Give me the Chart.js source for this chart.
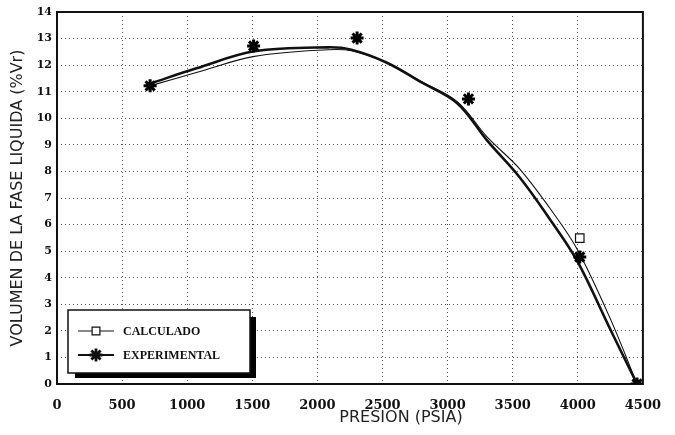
<!DOCTYPE html>
<html><head><meta charset="utf-8">
<script src="https://cdn.jsdelivr.net/npm/chart.js@4.4.1/dist/chart.umd.min.js"></script>
<style>html,body{margin:0;padding:0;background:#fff}canvas{display:block}</style>
</head><body>
<canvas id="c" width="675" height="435"></canvas>
<script>
// ---- data ----
const xTitle = 'PRESION (PSIA)';
const yTitle = 'VOLUMEN DE LA FASE LIQUIDA (%Vr)';
const seriesNames = ['CALCULADO', 'EXPERIMENTAL'];
const xTickValues = [0, 500, 1000, 1500, 2000, 2500, 3000, 3500, 4000, 4500];
const yTickValues = [0, 1, 2, 3, 4, 5, 6, 7, 8, 9, 10, 11, 12, 13, 14];
// smooth curves
const curvePressure = [713, 1070, 1516, 2082, 2261, 2530, 2801, 3076, 3303, 3553, 3780, 3992, 4250, 4455];
const curveExperimental = [11.30, 11.88, 12.52, 12.67, 12.58, 12.10, 11.35, 10.56, 9.17, 7.78, 6.24, 4.66, 2.05, 0];
const curveCalculated = [11.22, 11.72, 12.33, 12.58, 12.54, 12.10, 11.38, 10.62, 9.30, 8.10, 6.65, 5.10, 2.45, 0];
// measured points
const expPressure = [715, 1510, 2305, 3160, 4015, 4455];
const expVolume = [11.22, 12.72, 13.02, 10.73, 4.78, 0];
const calcPressure = [4015];
const calcVolume = [5.49];

const pts = (xs, ys) => xs.map((x, i) => ({x, y: ys[i]}));
const INK = '#111';

const frame = {
  id: 'frame',
  beforeDatasetsDraw(chart) {
    const {ctx, chartArea: a} = chart;
    ctx.save();
    ctx.strokeStyle = INK; ctx.lineWidth = 2;
    ctx.strokeRect(a.left, a.top, a.right - a.left, a.bottom - a.top);
    ctx.restore();
  },
  afterDraw(chart) {
    const {ctx} = chart;
    ctx.save();
    // x title
    ctx.fillStyle = '#222';
    ctx.font = '16px "DejaVu Sans"';
    ctx.textAlign = 'center'; ctx.textBaseline = 'middle';
    ctx.fillText(xTitle, 401, 418);
    // legend box
    ctx.fillStyle = '#000';
    ctx.fillRect(75, 317, 181, 61);
    ctx.fillStyle = '#fff';
    ctx.fillRect(68, 310, 182, 63);
    ctx.strokeStyle = INK; ctx.lineWidth = 1.5;
    ctx.strokeRect(68, 310, 182, 63);
    const rows = [
      {y: 331, lw: 1.2, opt: {pointStyle: 'rect', radius: 5.5, borderWidth: 1.2, rotation: 0}, fill: '#fff'},
      {y: 355, lw: 2.2, opt: {pointStyle: 'star', radius: 6.5, borderWidth: 2.8, rotation: 0}, fill: '#000'}
    ];
    rows.forEach((r, i) => {
      ctx.strokeStyle = INK; ctx.lineWidth = r.lw;
      ctx.beginPath(); ctx.moveTo(78, r.y); ctx.lineTo(114, r.y); ctx.stroke();
      ctx.fillStyle = r.fill; ctx.strokeStyle = INK; ctx.lineWidth = r.opt.borderWidth;
      Chart.helpers.drawPoint(ctx, r.opt, 96, r.y);
      ctx.fillStyle = INK;
      ctx.font = 'bold 12px "Liberation Serif"';
      ctx.textAlign = 'left'; ctx.textBaseline = 'middle';
      ctx.fillText(seriesNames[i], 123, r.y + 1);
    });
    ctx.restore();
  }
};

new Chart(document.getElementById('c'), {
  type: 'scatter',
  data: {
    datasets: [
      {label: seriesNames[1] + ' curve', data: pts(curvePressure, curveExperimental), showLine: true,
       borderColor: INK, borderWidth: 2.6, pointRadius: 0, tension: 0.35, order: 3},
      {label: seriesNames[0] + ' curve', data: pts(curvePressure, curveCalculated), showLine: true,
       borderColor: INK, borderWidth: 1.1, pointRadius: 0, tension: 0.35, order: 2},
      {label: seriesNames[1], data: pts(expPressure, expVolume), showLine: false,
       pointStyle: 'star', pointRadius: 6.5, pointBorderWidth: 3, pointBorderColor: '#000',
       pointBackgroundColor: '#000', order: 1},
      {label: seriesNames[0], data: pts(calcPressure, calcVolume), showLine: false,
       pointStyle: 'rect', pointRadius: 6, pointBorderWidth: 1.2, pointBorderColor: INK,
       pointBackgroundColor: '#fff', order: 0}
    ]
  },
  options: {
    responsive: false, animation: false,
    layout: {padding: {left: 0, right: 20, top: 12, bottom: 0}},
    plugins: {legend: {display: false}, tooltip: {enabled: false}},
    scales: {
      x: {
        type: 'linear', min: 0, max: 4500,
        afterBuildTicks: s => { s.ticks = xTickValues.map(v => ({value: v})); },
        afterFit: s => { s.height = 51; },
        grid: {color: '#555', lineWidth: 1, drawTicks: false},
        border: {display: false, dash: [1, 3]},
        ticks: {padding: 14, color: INK, font: {family: 'DejaVu Serif', weight: 'bold', size: 13},
                maxRotation: 0, callback: v => String(v)}
      },
      y: {
        type: 'linear', min: 0, max: 14,
        afterBuildTicks: s => { s.ticks = yTickValues.map(v => ({value: v})); },
        afterFit: s => { s.width = 57; },
        grid: {color: '#555', lineWidth: 1, drawTicks: false},
        border: {display: false, dash: [1, 3]},
        ticks: {padding: 5, color: INK, font: {family: 'DejaVu Serif', weight: 'bold', size: 11},
                callback: v => String(v)},
        title: {display: true, text: yTitle, color: '#222', padding: {top: 8, bottom: 0},
                font: {family: 'DejaVu Sans', size: 16}}
      }
    }
  },
  plugins: [frame]
});
</script>
</body></html>
